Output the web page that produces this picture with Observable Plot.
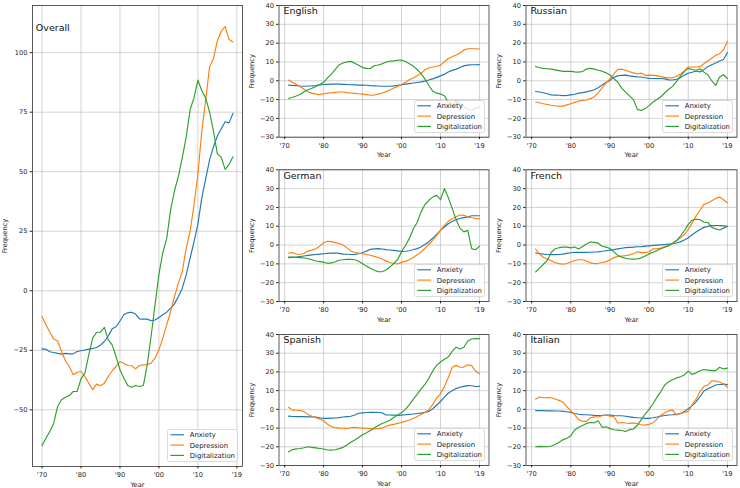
<!DOCTYPE html>
<html><head><meta charset="utf-8">
<script src="https://cdn.jsdelivr.net/npm/d3@7"></script>
<script src="https://cdn.jsdelivr.net/npm/@observablehq/plot@0.6"></script>
<style>
body{margin:0;background:#fff;}
#root{position:relative;width:740px;height:488px;overflow:hidden;background:#fff;font-family:"DejaVu Sans",sans-serif;}
.panel{position:absolute;}
.legend{position:absolute;}
</style></head><body><div id="root"></div>
<script>
const seriesNames = ["Anxiety", "Depression", "Digitalization"];
const seriesColors = ["#1f77b4", "#ff7f0e", "#2ca02c"];
const xTickValues = [1970, 1980, 1990, 2000, 2010, 2020];
const xTickLabels = ["'70", "'80", "'90", "'00", "'10", "'19"];
const overallYTicks = [-50, -25, 0, 25, 50, 75, 100];
const panelYTicks = [-30, -20, -10, 0, 10, 20, 30, 40];

const overallYears = [1970,1971,1972,1973,1974,1975,1976,1977,1978,1979,1980,1981,1982,1983,1984,1985,1986,1987,1988,1989,1990,1991,1992,1993,1994,1995,1996,1997,1998,1999,2000,2001,2002,2003,2004,2005,2006,2007,2008,2009,2010,2011,2012,2013,2014,2015,2016,2017,2018,2019];
const panelYears = [1971,1972,1973,1974,1975,1976,1977,1978,1979,1980,1981,1982,1983,1984,1985,1986,1987,1988,1989,1990,1991,1992,1993,1994,1995,1996,1997,1998,1999,2000,2001,2002,2003,2004,2005,2006,2007,2008,2009,2010,2011,2012,2013,2014,2015,2016,2017,2018,2019,2020];

// Overall
const overallAnxiety = [-24.4,-24.6,-25.6,-25.9,-26.3,-26.6,-26.3,-26.5,-26.5,-25.5,-25.2,-24.9,-24.5,-24.2,-23.8,-22.8,-21.3,-19.0,-16.0,-15.1,-12.7,-10.1,-9.2,-9.0,-9.8,-11.8,-11.9,-11.9,-12.6,-12.3,-11.2,-10.1,-9.0,-7.3,-5.5,-2.4,1.1,6.7,13.7,20.5,28.0,39.0,47.0,55.0,60.5,65.0,68.0,71.0,70.5,74.5];
const overallDepression = [-10.9,-14.3,-17.4,-20.3,-21.1,-25.5,-29.4,-31.8,-35.3,-34.2,-33.9,-36.0,-38.8,-41.6,-39.2,-39.9,-38.8,-36.0,-33.6,-31.8,-29.7,-30.5,-31.4,-31.5,-32.8,-31.4,-31.1,-31.0,-30.4,-28.3,-24.8,-19.9,-14.3,-8.7,-2.4,3.2,8.1,17.9,25.0,36.0,49.0,67.0,80.0,94.0,97.5,105.0,109.0,111.0,105.5,104.5];
const overallDigitalization = [-65.0,-61.9,-59.1,-55.6,-48.6,-45.8,-44.7,-44.0,-42.3,-42.3,-37.0,-34.6,-26.9,-19.9,-17.4,-17.4,-15.4,-20.6,-22.7,-27.6,-33.2,-36.7,-39.8,-40.5,-39.8,-40.2,-39.8,-31.0,-19.0,-6.0,7.0,16.0,22.0,34.0,42.0,48.0,56.0,64.5,76.0,81.0,88.5,84.0,81.0,75.0,67.0,57.5,56.0,51.0,53.0,56.3];

// English
const englishAnxiety = [-2.3,-2.5,-2.6,-2.8,-2.9,-2.8,-2.7,-2.5,-2.2,-2.0,-1.9,-1.8,-1.8,-1.8,-1.9,-2.0,-2.1,-2.2,-2.3,-2.3,-2.4,-2.6,-2.7,-2.8,-2.9,-2.9,-2.9,-2.7,-2.4,-2.1,-1.8,-1.5,-1.2,-0.9,-0.6,-0.2,0.4,1.0,1.8,2.6,3.5,4.7,5.5,6.2,7.0,7.9,8.3,8.5,8.5,8.6];
const englishDepression = [0.4,-0.8,-2.0,-3.2,-4.5,-5.8,-6.7,-7.1,-7.4,-6.9,-6.6,-6.4,-6.2,-6.0,-6.0,-6.3,-6.5,-6.7,-6.9,-7.1,-7.4,-7.7,-7.6,-7.1,-6.5,-5.8,-4.9,-3.9,-3.0,-2.0,-0.8,0.5,1.5,2.6,3.9,5.8,6.8,7.3,7.6,8.3,10.0,11.8,12.8,13.7,14.8,16.3,17.0,17.0,17.0,16.9];
const englishDigitalization = [-9.4,-8.8,-8.1,-7.2,-5.8,-4.8,-4.0,-3.0,-2.0,-0.8,1.5,3.5,6.0,8.5,9.4,10.0,10.3,9.3,8.2,7.0,6.6,6.5,8.0,8.4,9.0,9.8,10.4,10.6,10.9,11.0,10.2,9.0,7.8,6.0,3.8,1.0,-2.5,-5.5,-6.6,-7.0,-8.0,-11.5,-13.5,-10.5,-12.0,-14.0,-15.0,-15.8,-14.6,-14.0];

// Russian
const russianAnxiety = [-5.7,-6.0,-6.4,-6.9,-7.5,-7.6,-7.7,-7.9,-7.8,-7.5,-7.2,-6.6,-6.3,-5.9,-5.4,-4.8,-3.7,-2.2,-0.9,0.2,1.9,2.6,2.9,3.0,2.6,2.3,2.1,2.0,1.6,1.3,1.2,1.2,1.2,1.0,0.5,0.4,0.8,1.6,3.0,4.0,4.5,5.2,4.7,6.0,7.5,8.5,9.4,10.5,11.3,15.0];
const russianDepression = [-11.3,-11.7,-12.2,-12.6,-13.0,-13.3,-13.5,-13.5,-12.8,-12.2,-11.5,-10.8,-10.4,-10.2,-9.5,-8.5,-6.3,-3.8,-1.2,1.0,3.6,6.0,6.2,5.6,4.8,4.2,3.6,4.1,2.9,3.0,2.9,2.7,2.2,1.8,1.5,1.7,2.3,3.5,5.2,7.3,7.3,7.3,7.5,9.0,10.5,12.0,13.5,14.4,16.5,21.0];
const russianDigitalization = [7.6,6.9,6.6,6.4,6.2,5.8,5.4,5.0,5.0,5.0,4.7,4.6,4.9,6.2,6.6,6.2,5.6,5.1,4.2,3.0,1.1,-0.8,-3.9,-6.0,-8.0,-10.0,-15.2,-15.8,-14.8,-13.2,-11.3,-10.0,-8.5,-6.5,-4.5,-3.0,-0.3,2.5,5.0,6.6,6.0,5.6,6.4,4.6,3.2,0.0,-2.5,2.0,3.2,1.1];

// German
const germanAnxiety = [-6.7,-6.5,-6.4,-6.1,-5.8,-5.5,-5.2,-5.0,-4.8,-4.6,-4.4,-4.3,-4.2,-4.4,-4.8,-4.9,-5.0,-5.0,-4.6,-4.1,-3.2,-2.3,-2.0,-1.9,-2.1,-2.4,-2.6,-2.8,-3.1,-3.4,-3.3,-3.0,-2.5,-1.9,-1.0,0.3,1.8,3.6,5.7,7.8,9.6,11.3,12.5,13.5,14.1,14.6,15.0,15.6,15.6,15.6];
const germanDepression = [-4.2,-4.0,-4.8,-4.9,-4.5,-3.2,-2.7,-2.0,-0.6,1.2,2.0,1.8,1.3,0.8,0.0,-1.5,-3.2,-4.0,-4.3,-4.6,-5.0,-5.4,-6.0,-6.6,-7.4,-8.4,-9.3,-9.8,-10.0,-9.2,-8.7,-7.8,-6.6,-5.2,-3.7,-1.6,0.3,2.6,5.2,7.8,10.5,12.6,14.0,15.0,16.0,15.8,15.0,14.5,14.2,14.0];
const germanDigitalization = [-6.4,-6.4,-6.5,-6.7,-6.9,-7.3,-7.8,-8.5,-8.8,-9.1,-9.7,-9.5,-8.9,-8.1,-7.8,-7.6,-7.6,-7.8,-8.6,-9.9,-11.2,-12.3,-13.4,-14.1,-14.2,-13.3,-11.7,-9.8,-7.8,-3.5,-0.2,3.4,8.5,12.0,17.5,21.5,23.8,25.5,26.4,24.1,30.0,25.3,19.5,13.5,9.0,7.0,7.8,-1.9,-2.5,-0.7];

// French
const frenchAnxiety = [-4.2,-4.5,-4.8,-5.0,-5.1,-5.1,-5.0,-4.8,-4.4,-4.1,-3.9,-3.9,-3.9,-3.9,-3.8,-3.7,-3.6,-3.3,-3.0,-2.7,-2.4,-2.0,-1.7,-1.4,-1.2,-1.1,-0.9,-0.8,-0.6,-0.4,-0.2,0.0,0.1,0.3,0.5,0.7,1.1,1.7,2.7,3.9,5.5,6.9,8.3,9.4,9.9,10.3,10.4,10.4,10.2,9.9];
const frenchDepression = [-2.1,-4.8,-6.5,-7.5,-8.2,-9.4,-9.9,-10.2,-9.8,-9.0,-8.2,-7.8,-7.8,-8.5,-9.5,-9.9,-9.7,-9.3,-8.8,-8.0,-6.7,-6.0,-5.8,-5.6,-5.2,-4.6,-3.6,-4.0,-4.0,-3.7,-2.0,-1.9,-1.6,-0.8,-0.3,0.8,2.3,3.8,5.6,8.3,11.8,15.5,18.5,21.6,22.3,23.5,24.8,25.5,24.1,22.5];
const frenchDigitalization = [-14.3,-12.3,-10.2,-8.1,-3.8,-2.0,-1.4,-1.1,-1.1,-1.5,-1.0,-2.1,-0.8,0.6,1.6,1.4,1.0,-0.6,-1.1,-1.8,-3.6,-5.5,-6.4,-7.0,-7.4,-7.5,-7.4,-6.8,-5.8,-4.7,-3.8,-2.9,-2.0,-1.2,-0.3,1.0,2.4,4.8,7.6,11.0,13.2,13.7,13.5,12.2,12.0,9.4,8.6,8.0,9.0,9.9];

// Spanish
const spanishAnxiety = [-3.6,-3.8,-3.9,-3.9,-3.9,-4.0,-4.0,-4.1,-4.5,-4.8,-4.8,-4.7,-4.6,-4.4,-4.1,-3.9,-3.7,-3.0,-2.1,-1.9,-1.7,-1.6,-1.6,-1.7,-1.8,-3.0,-3.0,-3.1,-3.2,-3.1,-2.9,-2.7,-2.5,-2.2,-2.0,-1.6,-1.1,0.3,2.2,4.2,6.5,8.6,10.0,11.1,11.8,12.3,12.7,12.6,12.2,12.3];
const spanishDepression = [1.1,-0.4,-0.5,-0.6,-1.2,-2.8,-3.7,-4.5,-5.2,-6.1,-8.0,-9.2,-9.8,-10.0,-10.1,-10.2,-9.8,-9.6,-9.9,-10.0,-10.1,-10.3,-10.5,-10.3,-10.0,-9.0,-8.4,-8.0,-7.5,-7.0,-6.4,-5.7,-4.9,-3.8,-2.7,-1.7,-0.2,2.5,6.0,8.3,12.0,17.0,22.5,23.5,22.5,22.6,23.8,23.4,20.5,19.0];
const spanishDigitalization = [-22.7,-21.5,-21.1,-20.9,-20.5,-20.0,-20.3,-20.6,-20.9,-21.2,-21.7,-21.8,-21.6,-21.0,-20.3,-19.0,-17.6,-16.4,-15.0,-13.6,-12.5,-11.3,-10.0,-8.6,-7.6,-6.8,-5.8,-4.4,-3.0,-1.8,0.0,2.5,5.3,8.0,10.8,13.3,16.5,20.5,23.5,25.3,26.8,28.0,31.0,33.2,32.3,33.2,36.5,37.6,37.8,37.8];

// Italian
const italianAnxiety = [-0.7,-0.7,-0.7,-0.8,-0.8,-0.9,-0.9,-1.1,-1.3,-1.6,-2.2,-2.6,-2.8,-2.9,-3.0,-3.2,-3.3,-3.2,-3.0,-3.1,-3.3,-3.4,-3.4,-3.7,-4.0,-4.3,-4.5,-4.6,-4.8,-4.8,-4.5,-4.1,-3.6,-3.3,-3.0,-2.9,-2.7,-2.3,-1.2,0.4,2.0,4.0,6.8,9.8,11.0,12.0,13.0,13.3,13.5,13.2];
const italianDepression = [5.4,6.6,6.2,6.3,6.2,5.5,4.8,3.8,1.4,-0.8,-3.0,-5.5,-6.4,-6.4,-4.5,-4.0,-4.1,-3.4,-3.0,-3.6,-3.9,-7.3,-7.0,-7.3,-7.5,-7.2,-7.7,-8.2,-8.4,-8.0,-7.2,-5.2,-3.2,-1.8,-0.8,-0.4,-3.0,-2.1,-1.6,-1.1,2.5,5.5,9.5,12.3,13.0,15.3,15.1,14.6,13.6,11.8];
const italianDigitalization = [-20.0,-19.8,-19.9,-20.0,-19.6,-18.8,-17.6,-16.3,-15.4,-14.1,-11.0,-9.6,-8.6,-7.5,-7.0,-7.2,-6.1,-9.6,-9.3,-10.3,-10.9,-11.1,-11.3,-11.8,-10.8,-10.5,-8.5,-5.5,-2.5,0.0,3.0,6.5,9.5,13.0,14.8,15.8,16.8,17.4,18.4,20.4,18.6,19.5,20.6,21.3,21.0,20.7,20.7,22.5,21.6,22.0];

const titles = ["Overall", "English", "Russian", "German", "French", "Spanish", "Italian"];

// layout (page px): svg box + frame margins
const panels = [
  {title: titles[0], years: overallYears, values: [overallAnxiety, overallDepression, overallDigitalization],
   left: 0, top: 0, w: 250, h: 488, ml: 32, mr: 8, mt: 5, mb: 22,
   xDomain: [1967.55, 2021.45], yDomain: [-73.8, 119.8], yTicks: overallYTicks, tdx: 3.3, tdy: 18.3},
  {title: titles[1], years: panelYears, values: [englishAnxiety, englishDepression, englishDigitalization],
   left: 240, top: 0, w: 252, h: 160, ml: 38.5, mr: 3.5, mt: 5, mb: 23.3,
   xDomain: [1968.55, 2022.45], yDomain: [-30, 40], yTicks: panelYTicks, tdx: 4.4, tdy: 2},
  {title: titles[2], years: panelYears, values: [russianAnxiety, russianDepression, russianDigitalization],
   left: 488, top: 0, w: 252, h: 160, ml: 37.5, mr: 3.5, mt: 5, mb: 23.3,
   xDomain: [1968.55, 2022.45], yDomain: [-30, 40], yTicks: panelYTicks, tdx: 4.4, tdy: 2},
  {title: titles[3], years: panelYears, values: [germanAnxiety, germanDepression, germanDigitalization],
   left: 240, top: 164, w: 252, h: 160, ml: 38.5, mr: 3.5, mt: 5.3, mb: 23,
   xDomain: [1968.55, 2022.45], yDomain: [-30, 40], yTicks: panelYTicks, tdx: 4.4, tdy: 2},
  {title: titles[4], years: panelYears, values: [frenchAnxiety, frenchDepression, frenchDigitalization],
   left: 488, top: 164, w: 252, h: 160, ml: 37.5, mr: 3.5, mt: 5.3, mb: 23,
   xDomain: [1968.55, 2022.45], yDomain: [-30, 40], yTicks: panelYTicks, tdx: 4.4, tdy: 2},
  {title: titles[5], years: panelYears, values: [spanishAnxiety, spanishDepression, spanishDigitalization],
   left: 240, top: 329, w: 252, h: 159, ml: 38.5, mr: 3.5, mt: 5, mb: 23,
   xDomain: [1968.55, 2022.45], yDomain: [-30, 40], yTicks: panelYTicks, tdx: 4.4, tdy: 2},
  {title: titles[6], years: panelYears, values: [italianAnxiety, italianDepression, italianDigitalization],
   left: 488, top: 329, w: 252, h: 159, ml: 37.5, mr: 3.5, mt: 5, mb: 23,
   xDomain: [1968.55, 2022.45], yDomain: [-30, 40], yTicks: panelYTicks, tdx: 4.4, tdy: 2}
];

const root = document.getElementById("root");
const gridStyle = {stroke: "#b0b0b0", strokeOpacity: 0.7, strokeWidth: 0.8};

function makePanel(cfg) {
  const rows = [];
  seriesNames.forEach((s, i) => cfg.values[i].forEach((v, j) => rows.push({year: cfg.years[j], value: v, series: s})));
  const chart = Plot.plot({
    width: cfg.w, height: cfg.h,
    marginLeft: cfg.ml, marginRight: cfg.mr, marginTop: cfg.mt, marginBottom: cfg.mb,
    style: {fontFamily: "'DejaVu Sans', sans-serif", fontSize: "6.7px", color: "#222", background: "transparent", overflow: "visible"},
    x: {domain: cfg.xDomain},
    y: {domain: cfg.yDomain},
    color: {domain: seriesNames, range: seriesColors},
    marks: [
      Plot.gridX(xTickValues, gridStyle),
      Plot.gridY(cfg.yTicks, gridStyle),
      Plot.lineY(rows, {x: "year", y: "value", z: "series", stroke: "series", strokeWidth: 1.15}),
      Plot.frame({stroke: "#333", strokeWidth: 0.8}),
      Plot.axisX(xTickValues, {tickFormat: (d) => xTickLabels[xTickValues.indexOf(d)], tickSize: 2.4, tickPadding: 3.3, label: "Year", labelAnchor: "center", labelOffset: 20, labelArrow: "none"}),
      Plot.axisY(cfg.yTicks, {tickSize: 2.4, tickPadding: 2.6, label: "Frequency", labelAnchor: "center", labelOffset: 30, labelArrow: "none"}),
      Plot.text([cfg.title], {text: (d) => d, frameAnchor: "top-left", dx: cfg.tdx, dy: cfg.tdy, textAnchor: "start", lineAnchor: "top", fontSize: 9.5, fill: "#111"})
    ]
  });
  const div = document.createElement("div");
  div.className = "panel";
  div.style.left = cfg.left + "px";
  div.style.top = cfg.top + "px";
  div.appendChild(chart);
  root.appendChild(div);

  // legend (lower right inside frame)
  const frameRight = cfg.left + cfg.w - cfg.mr;
  const frameBottom = cfg.top + cfg.h - cfg.mb;
  const lw = 71, lh = 33;
  const lg = d3.create("svg").attr("class", "legend").attr("width", lw).attr("height", lh)
    .style("left", (frameRight - 4 - lw) + "px").style("top", (frameBottom - 4 - lh) + "px");
  lg.append("rect").attr("x", 0.5).attr("y", 0.5).attr("width", lw - 1).attr("height", lh - 1).attr("rx", 2)
    .attr("fill", "#fff").attr("fill-opacity", 0.8).attr("stroke", "#d0d0d0").attr("stroke-width", 0.8);
  seriesNames.forEach((s, i) => {
    const y = 5.8 + i * 10.3;
    lg.append("line").attr("x1", 3.4).attr("x2", 17).attr("y1", y).attr("y2", y)
      .attr("stroke", seriesColors[i]).attr("stroke-width", 1.15);
    lg.append("text").attr("x", 22.7).attr("y", y).attr("dy", "0.35em")
      .attr("font-family", "'DejaVu Sans', sans-serif").attr("font-size", 6.9).attr("fill", "#222").text(s);
  });
  root.appendChild(lg.node());
}
panels.forEach(makePanel);
</script></body></html>
